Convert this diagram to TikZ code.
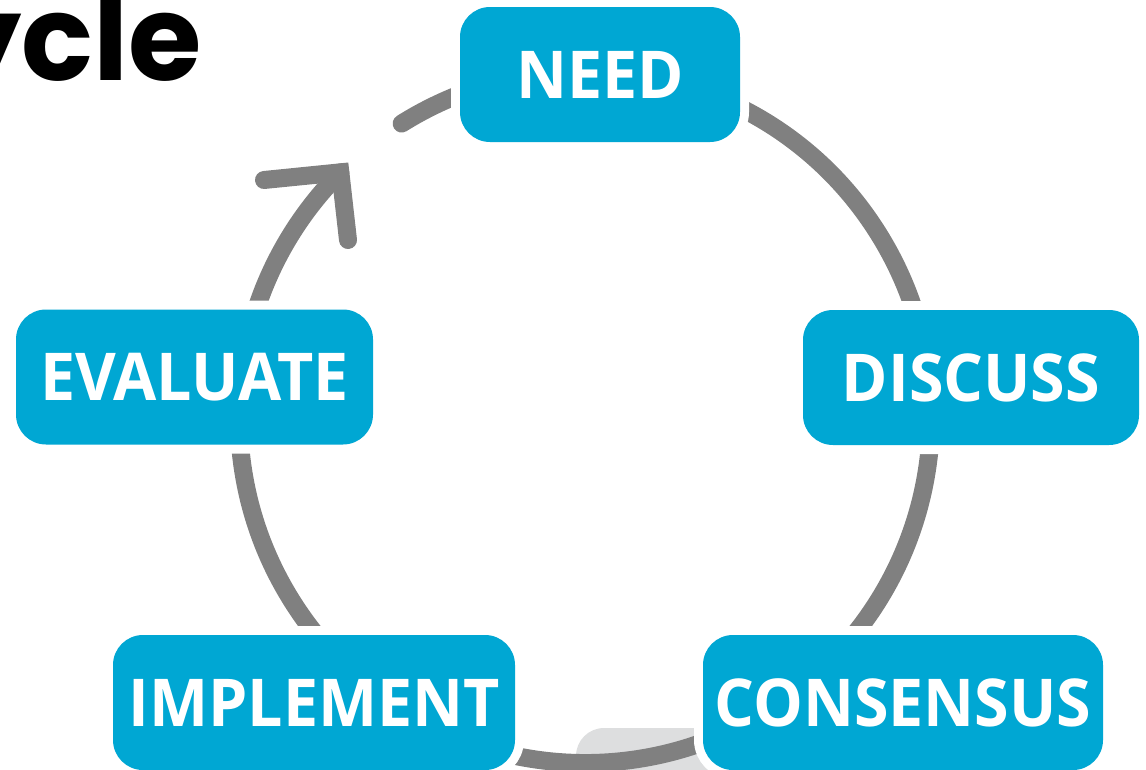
\documentclass[tikz,border=0pt]{standalone}
\usepackage{fontspec}
\newfontfamily\stagefont{Open Sans}[FakeStretch=0.95]
\newfontfamily\titlefont{Poppins}
\definecolor{stageblue}{RGB}{0,167,211}
\definecolor{ringgray}{RGB}{128,128,128}
\definecolor{shadowgray}{RGB}{221,222,223}

\begin{document}
\begin{tikzpicture}[x=1pt, y=-1pt,
  ring/.style = {draw=ringgray, line width=18pt, line cap=round},
  stage/.style = {shape=rectangle, rounded corners=30pt,
    fill=stageblue, preaction={draw=white, line width=18pt},
    minimum height=135pt, inner sep=0pt, text=white,
    font=\stagefont\bfseries\fontsize{66}{66}\selectfont}]
  \useasboundingbox (0,0) rectangle (1146,769);
  \clip (0,0) rectangle (1146,769);
  \node[anchor=base east, inner sep=0pt,
    font=\titlefont\bfseries\fontsize{119}{119}\selectfont] (title) at (202,80) {ycle};
  \fill[shadowgray, rounded corners=28pt] (576,728) rectangle (770,800);
  \coordinate (hub) at (585,417);
  \draw[ring] (hub) ++(-122:346) arc[start angle=-122, end angle=225, radius=346] coordinate (tip);
  \coordinate (barb1) at (264,180);
  \coordinate (barb2) at (348,240);
  \draw[ring, line join=miter] (barb1) -- (tip) -- (barb2);
  \node[stage, minimum width=280pt] (need) at (600,74.5) {NEED};
  \node[stage, minimum width=336pt] (discuss) at (971,377.5) {DISCUSS};
  \node[stage, minimum width=400pt] (consensus) at (903,702.5) {CONSENSUS};
  \node[stage, minimum width=402pt] (implement) at (314,702.5) {IMPLEMENT};
  \node[stage, minimum width=357pt] (evaluate) at (194.5,377) {EVALUATE};
\end{tikzpicture}
\end{document}
